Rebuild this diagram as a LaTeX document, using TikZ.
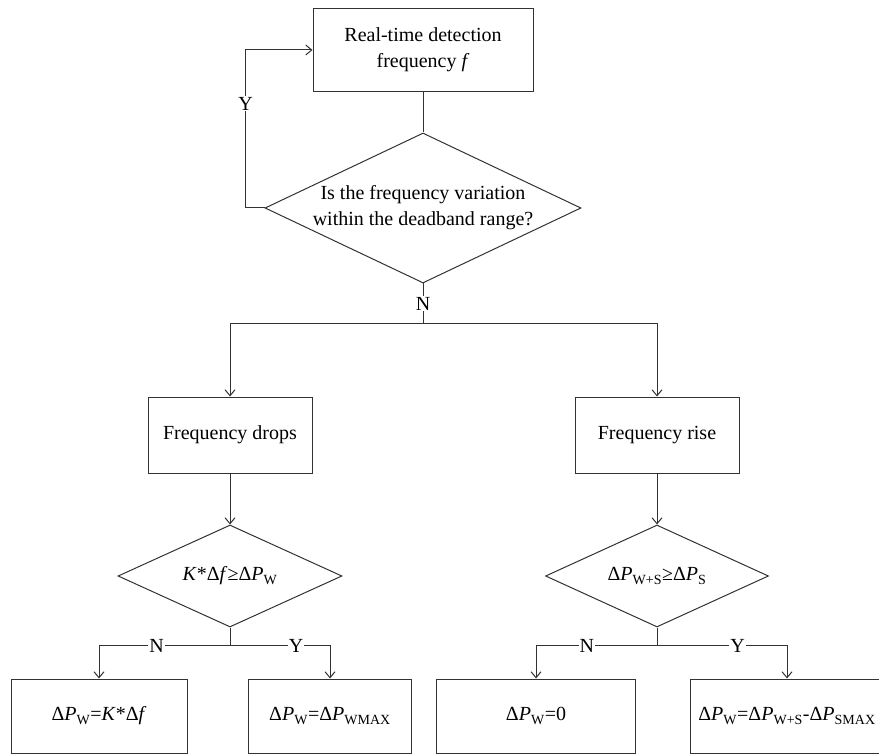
\documentclass[tikz,border=0pt]{standalone}
\usepackage{fontspec}
\setmainfont{Liberation Serif}
\usepackage{tikz}
\usetikzlibrary{shapes,arrows.meta}
\definecolor{linegray}{RGB}{50,50,50}
\tikzset{box/.style={draw=linegray,line width=1pt,inner sep=0pt,align=center},
  dec/.style={draw=linegray,line width=1pt,shape=diamond,inner sep=0pt,aspect=2},
  lbl/.style={fill=white,inner sep=1pt},
  conn/.style={draw=linegray,line width=1pt,-{Straight Barb[length=6pt,width=10pt]}}}
\newcommand{\dP}[1]{Δ\textit{P}\textsubscript{#1}}

\begin{document}
\begin{tikzpicture}[x=1pt,y=-1pt,font=\fontsize{20}{26}\selectfont]
\useasboundingbox (0,0) rectangle (879,754);
\node[box,minimum width=220pt,minimum height=83pt] (detect) at (423,50) {Real-time detection\\frequency \textit{f}};
\node[dec,minimum width=316pt,minimum height=150pt,label={[align=center]center:Is the frequency variation\\within the deadband range?}] (band) at (423,208) {};
\node[box,minimum width=164pt,minimum height=76pt] (drop) at (230,435) {Frequency drops};
\node[box,minimum width=164pt,minimum height=76pt] (rise) at (657,435) {Frequency rise};
\node[dec,minimum width=224pt,minimum height=102pt,label=center:\textit{K}*Δ\textit{f}≥\dP{W}] (qdrop) at (230,576) {};
\node[dec,minimum width=223pt,minimum height=102pt,label=center:\dP{W+S}≥\dP{S}] (qrise) at (657,576) {};
\node[box,minimum width=176pt,minimum height=74pt] (outa) at (99,716) {\dP{W}=\textit{K}*Δ\textit{f}};
\node[box,minimum width=163pt,minimum height=74pt] (outb) at (330,716) {\dP{W}=\dP{WMAX}};
\node[box,minimum width=199pt,minimum height=74pt] (outc) at (536,716) {\dP{W}=0};
\node[box,minimum width=194pt,minimum height=74pt] (outd) at (787,716) {\dP{W}=\dP{W+S}-\dP{SMAX}};
% top loop
\draw[linegray,line width=1pt] (detect.south) -- (band.north);
\draw[conn] (band.west) -- ++(-19,0) |- node[lbl,text=black,pos=0.33]{Y} (detect.west);
\draw[linegray,line width=1pt] (band.south) -- node[lbl,text=black]{N} ++(0,40) coordinate (split);
\draw[conn] (split) -| (drop.north);
\draw[conn] (split) -| (rise.north);
% lower branches
\draw[conn] (drop.south) -- (qdrop.north);
\draw[conn] (rise.south) -- (qrise.north);
\draw[linegray,line width=1pt] (qdrop.south) -- ++(0,18) coordinate (splita);
\draw[linegray,line width=1pt] (qrise.south) -- ++(0,18) coordinate (splitb);
\draw[conn] (splita) -| node[lbl,text=black,pos=0.28]{N} (outa.north);
\draw[conn] (splita) -| node[lbl,text=black,pos=0.33]{Y} (outb.north);
\draw[conn] (splitb) -| node[lbl,text=black,pos=0.29]{N} (outc.north);
\draw[conn] (splitb) -| node[lbl,text=black,pos=0.31]{Y} (outd.north);
\end{tikzpicture}
\end{document}
